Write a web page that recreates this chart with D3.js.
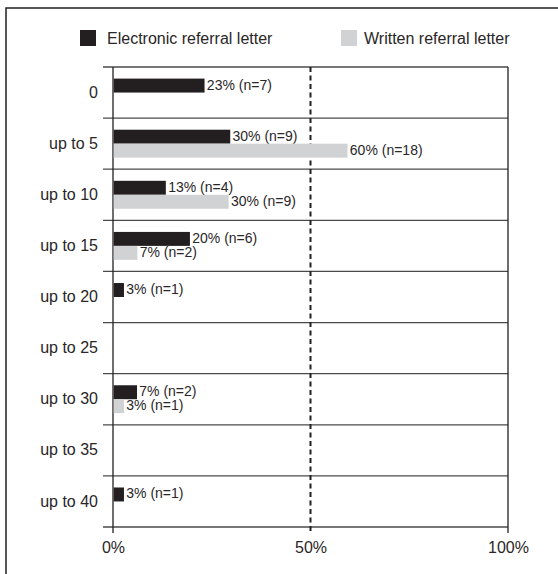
<!DOCTYPE html>
<html>
<head>
<meta charset="utf-8">
<script src="https://cdn.jsdelivr.net/npm/d3@7"></script>
<style>
  body { margin: 0; background: #fff; }
  svg { font-family: "Liberation Sans", Arial, sans-serif; }
</style>
</head>
<body>
<svg id="grafico" width="558" height="574"></svg>
<script>
// Datos (longitud de barra en %)
var categorias = ["0", "up to 5", "up to 10", "up to 15", "up to 20", "up to 25", "up to 30", "up to 35", "up to 40"];
var electronica = [23, 29.5, 13.2, 19.3, 2.6, null, 5.9, null, 2.6];
var escrita = [null, 59.2, 29.1, 6, null, null, 2.6, null, null];
var etiquetasElectronica = ["23% (n=7)", "30% (n=9)", "13% (n=4)", "20% (n=6)", "3% (n=1)", "", "7% (n=2)", "", "3% (n=1)"];
var etiquetasEscrita = ["", "60% (n=18)", "30% (n=9)", "7% (n=2)", "", "", "3% (n=1)", "", ""];
var ticks = [0, 50, 100];
var series = ["Electronic referral letter", "Written referral letter"];
var colores = ["#231f20", "#d1d2d4"];

var svg = d3.select("#grafico");
var texto = "#2a2627";

// Marco
svg.append("path")
    .attr("d", "M6,574 L6,8 L558,8")
    .attr("fill", "none")
    .attr("stroke", "#231f20")
    .attr("stroke-width", 1.5);

// Escalas
var x = d3.scaleLinear().domain([0, 100]).range([113, 508]);
var y = d3.scaleBand().domain(categorias).range([67, 527]);
var ySub = d3.scaleBand().domain([0, 1]).range([0, y.bandwidth()]).paddingOuter(0.83);

// Lineas horizontales entre filas
var bordes = categorias.map(c => y(c)).concat([y.range()[1]]);
svg.selectAll(".fila").data(bordes).enter().append("line")
    .attr("x1", 103).attr("x2", x(100))
    .attr("y1", d => d).attr("y2", d => d)
    .attr("stroke", "#4a4a4a")
    .attr("stroke-width", 1.3);

// Lineas verticales (0%, 50% discontinua, 100%)
svg.selectAll(".vert").data(ticks).enter().append("line")
    .attr("x1", d => x(d)).attr("x2", d => x(d))
    .attr("y1", y.range()[0]).attr("y2", y.range()[1] + 6)
    .attr("stroke", "#231f20")
    .attr("stroke-width", d => d == 50 ? 2 : 1.3)
    .attr("stroke-dasharray", d => d == 50 ? "5,3.5" : null);

// Eje X
var ejeX = svg.append("g")
    .attr("transform", "translate(0," + (y.range()[1] + 6) + ")")
    .call(d3.axisBottom(x).tickValues(ticks).tickSize(0).tickPadding(9).tickFormat(d => d + "%"));
ejeX.select(".domain").remove();
ejeX.selectAll("text").attr("fill", texto).style("font-size", "16px");

// Eje Y
var ejeY = svg.append("g")
    .attr("transform", "translate(" + 98 + ",0)")
    .call(d3.axisLeft(y).tickSize(0).tickPadding(0));
ejeY.select(".domain").remove();
ejeY.selectAll("text").attr("fill", texto).style("font-size", "16px");

// Barras
var valores = [electronica, escrita];
var etiquetas = [etiquetasElectronica, etiquetasEscrita];
valores.forEach(function(serie, s){
    var datos = categorias.map((c, i) => ({cat: c, v: serie[i], etiqueta: etiquetas[s][i]}))
        .filter(d => d.v != null);
    svg.selectAll(".barra" + s).data(datos).enter().append("rect")
        .attr("x", x(0) + 0.7)
        .attr("y", d => y(d.cat) + ySub(s))
        .attr("width", d => x(d.v) - x(0))
        .attr("height", ySub.bandwidth())
        .attr("fill", colores[s]);
    svg.selectAll(".etiqueta" + s).data(datos).enter().append("text")
        .attr("x", d => x(d.v) + 3)
        .attr("y", d => y(d.cat) + ySub(s) + ySub.bandwidth() / 2 - 1)
        .attr("dominant-baseline", "central")
        .attr("fill", texto)
        .style("font-size", "14px")
        .text(d => d.etiqueta);
});

// Leyenda
var leyendaX = [80, 341];
var leyendaTextoX = [107, 364];
series.forEach(function(nombre, i){
    svg.append("rect")
        .attr("x", leyendaX[i]).attr("y", 30)
        .attr("width", 16).attr("height", 16)
        .attr("fill", colores[i]);
    svg.append("text")
        .attr("x", leyendaTextoX[i]).attr("y", 38)
        .attr("dominant-baseline", "central")
        .attr("fill", texto)
        .style("font-size", "16px")
        .text(nombre);
});
</script>
</body>
</html>
